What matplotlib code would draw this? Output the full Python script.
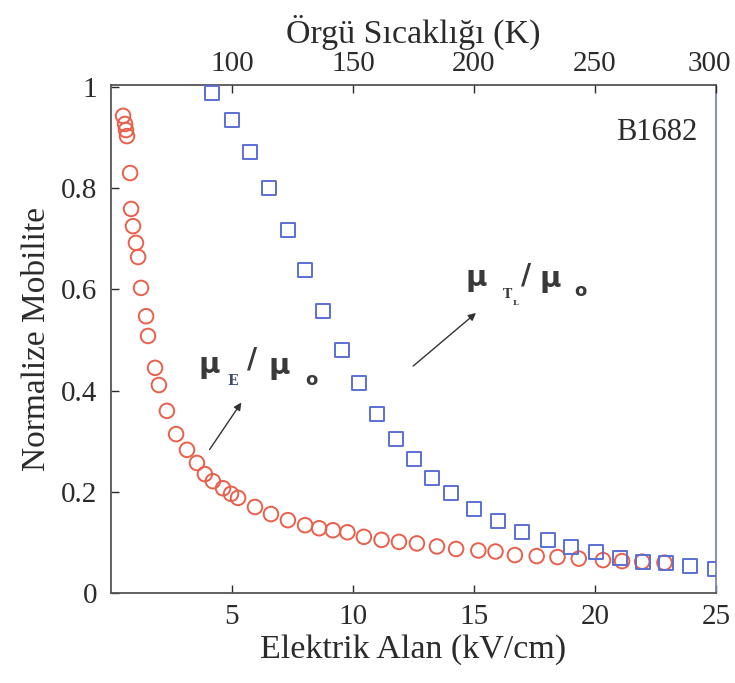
import matplotlib
matplotlib.use("Agg")
import matplotlib.pyplot as plt
from matplotlib.transforms import ScaledTranslation

# Red circles: mu_E / mu_0 versus electric field (kV/cm)
field_E = [0.50, 0.58, 0.62, 0.66, 0.79, 0.83, 0.91, 1.03, 1.12, 1.24, 1.45, 1.53,
           1.82, 1.98, 2.31, 2.69, 3.14, 3.55, 3.88, 4.21, 4.63, 4.96, 5.25, 5.95,
           6.61, 7.31, 8.02, 8.60, 9.17, 9.77, 10.45, 11.18, 11.90, 12.64, 13.47,
           14.26, 15.18, 15.89, 16.69, 17.59, 18.45, 19.33, 20.33, 21.12, 21.95, 22.87]
mob_E = [0.943, 0.927, 0.915, 0.903, 0.830, 0.759, 0.725, 0.692, 0.664, 0.603, 0.547,
         0.508, 0.445, 0.411, 0.360, 0.314, 0.283, 0.257, 0.235, 0.221, 0.207, 0.196,
         0.188, 0.170, 0.156, 0.144, 0.134, 0.128, 0.124, 0.120, 0.111, 0.105, 0.101,
         0.098, 0.092, 0.087, 0.084, 0.082, 0.075, 0.073, 0.071, 0.068, 0.065, 0.063,
         0.062, 0.060]

# Blue squares: mu_TL / mu_0 versus lattice temperature (K)
temp_T = [91.7, 100.0, 107.4, 115.3, 123.1, 130.2, 137.6, 145.5, 152.5, 159.9, 167.8,
          175.2, 182.6, 190.5, 200.0, 210.0, 219.8, 230.6, 240.0, 250.4, 260.3, 269.8,
          279.3, 289.3, 299.6]
mob_T = [0.988, 0.935, 0.872, 0.800, 0.717, 0.638, 0.557, 0.480, 0.415, 0.354, 0.304,
         0.265, 0.227, 0.198, 0.166, 0.142, 0.121, 0.105, 0.091, 0.081, 0.069, 0.061,
         0.059, 0.053, 0.047]

x_ticks = [5, 10, 15, 20, 25]
y_ticks = [0, 0.2, 0.4, 0.6, 0.8, 1.0]
y_ticklabels = ["0", "0.2", "0.4", "0.6", "0.8", "1"]
top_ticks = [100, 150, 200, 250, 300]

TXT = "#2b2b2b"
plt.rcParams['font.family'] = ['Liberation Serif', 'DejaVu Serif']

fig = plt.figure(figsize=(7.35, 6.83), dpi=100)
ax = fig.add_axes([111/735, (683-593)/683, (716-111)/735, (593-85)/683])

ax.scatter(field_E, mob_E, s=110, marker='o', facecolors='none',
           edgecolors='#e8604c', linewidths=1.4, zorder=3)

ax.set_xlim(0, 25)
ax.set_ylim(0, 1.004)
ax.set_xticks(x_ticks)
ax.set_yticks(y_ticks)
ax.set_yticklabels(y_ticklabels)
ax.tick_params(direction='in', length=6, width=1.0, labelsize=21, colors=TXT,
               pad=8)
ax.tick_params(axis='y', pad=10)
for s in ax.spines.values():
    s.set_color('#555555')
    s.set_linewidth(1.3)
ax.spines['right'].set_color('#7a86b8')

ax.set_xlabel("Elektrik Alan (kV/cm)", fontsize=24.5, color=TXT, labelpad=3)
ax.set_ylabel("Normalize Mobilite", fontsize=24, color=TXT, labelpad=6)

# Top axis: lattice temperature (T = 50 K at left edge, 300 K at right edge)
ax2 = ax.twiny()
ax2.set_xlim(50, 300)
ax2.set_xticks(top_ticks)
ax2.tick_params(direction='in', length=6, width=1.0, labelsize=21, colors=TXT,
                pad=6)
ax2.scatter(temp_T, mob_T, s=95, marker='s', facecolors='none',
            edgecolors='#5b6fd6', linewidths=1.4, zorder=3)
ax2.set_xlabel("Örgü Sıcaklığı (K)", fontsize=24.5, color=TXT, labelpad=6)
for s in ax2.spines.values():
    s.set_visible(False)
lbl = ax2.get_xticklabels()[-1]
lbl.set_transform(lbl.get_transform() + ScaledTranslation(-5/72, 0, fig.dpi_scale_trans))

ax.text(22.56, 0.911, "B1682", fontsize=22, color=TXT, ha='center', va='center')

# mu_E / mu_o label
mu_kw = dict(fontsize=21, fontweight='bold', color='#3a3a3a', family='DejaVu Sans',
             ha='center', va='center')
ax.text(4.05, 0.451, "μ", **mu_kw)
ax.text(5.04, 0.419, "E", fontsize=10, fontweight='bold', color='#3d4a72',
        family='DejaVu Serif', ha='center', va='center')
ax.text(5.83, 0.462, "/", fontsize=20, fontweight='bold', color='#3a3a3a',
        family='DejaVu Sans', ha='center', va='center')
ax.text(6.94, 0.449, "μ", **mu_kw)
ax.text(8.26, 0.421, "o", fontsize=13, fontweight='bold', color='#3a3a3a',
        family='DejaVu Sans', ha='center', va='center')

# mu_TL / mu_o label
ax.text(15.08, 0.623, "μ", **mu_kw)
ax.text(16.38, 0.590, "T", fontsize=9, fontweight='bold', color='#3a3a3a',
        family='DejaVu Serif', ha='center', va='center')
ax.text(16.70, 0.574, "L", fontsize=6, fontweight='bold', color='#3a3a3a',
        family='DejaVu Serif', ha='center', va='center')
ax.text(17.15, 0.627, "/", fontsize=20, fontweight='bold', color='#3a3a3a',
        family='DejaVu Sans', ha='center', va='center')
ax.text(18.14, 0.621, "μ", **mu_kw)
ax.text(19.38, 0.596, "o", fontsize=13, fontweight='bold', color='#3a3a3a',
        family='DejaVu Sans', ha='center', va='center')

arrow_kw = dict(arrowstyle='-|>', color='#333333', lw=1.0, mutation_scale=11)
ax.annotate("", xy=(5.45, 0.381), xytext=(4.01, 0.279), arrowprops=arrow_kw)
ax.annotate("", xy=(15.17, 0.557), xytext=(12.40, 0.445), arrowprops=arrow_kw)

fig.savefig("out.png", dpi=100)
